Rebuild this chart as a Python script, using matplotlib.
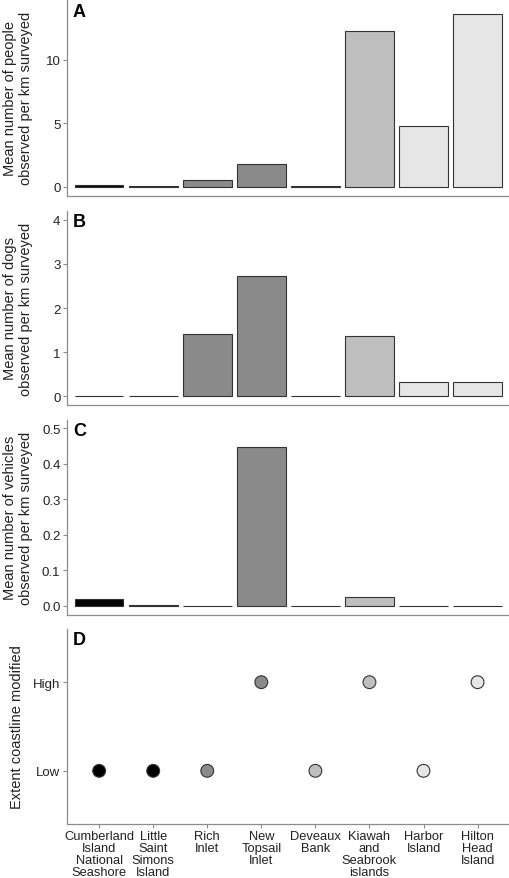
import numpy as np
import matplotlib
matplotlib.use("Agg")
import matplotlib.pyplot as plt

plt.rcParams['font.family'] = ['Liberation Sans', 'DejaVu Sans']

# ── data ─────────────────────────────────────────────
sites = ["Cumberland\nIsland\nNational\nSeashore", "Little\nSaint\nSimons\nIsland",
         "Rich\nInlet", "New\nTopsail\nInlet", "Deveaux\nBank",
         "Kiawah\nand\nSeabrook\nislands", "Harbor\nIsland", "Hilton\nHead\nIsland"]
people = [0.12, 0.04, 0.58, 1.80, 0.04, 12.30, 4.82, 13.60]
dogs = [0.0, 0.0, 1.41, 2.72, 0.0, 1.36, 0.33, 0.32]
vehicles = [0.019, 0.002, 0.0, 0.447, 0.0, 0.025, 0.0, 0.0]
modified = ["Low", "Low", "Low", "High", "Low", "High", "Low", "High"]
fills = ["#000000", "#000000", "#8a8a8a", "#8a8a8a", "#bebebe", "#bebebe", "#e6e6e6", "#e6e6e6"]

W, H = 510, 879
fig = plt.figure(figsize=(W / 100, H / 100), dpi=100)

left = 66.7 / W
width = 1 - left
# (top px, bottom px) of each panel
panels = [(0, 197), (212, 406), (420.7, 616), (630, 825)]
axes = []
for top, bot in panels:
    axes.append(fig.add_axes([left, 1 - bot / H, width, (bot - top) / H]))

x = np.arange(1, len(sites) + 1)
axis_col = "#8c8c8c"
text_col = "#222222"


def style(ax):
    for s in ["top", "right"]:
        ax.spines[s].set_visible(False)
    for s in ["left", "bottom"]:
        ax.spines[s].set_color(axis_col)
        ax.spines[s].set_linewidth(0.9)
    ax.tick_params(colors=axis_col, labelcolor=text_col, labelsize=9.5,
                   length=3, width=0.8, pad=1.5)
    ax.set_xlim(0.4, 8.6)


series = [(people, (-0.71, 14.8), [0, 5, 10], ["0", "5", "10"],
           "Mean number of people\nobserved per km surveyed"),
          (dogs, (-0.2, 4.2), [0, 1, 2, 3, 4], ["0", "1", "2", "3", "4"],
           "Mean number of dogs\nobserved per km surveyed"),
          (vehicles, (-0.026, 0.524), [0, 0.1, 0.2, 0.3, 0.4, 0.5],
           ["0.0", "0.1", "0.2", "0.3", "0.4", "0.5"],
           "Mean number of vehicles\nobserved per km surveyed")]


def ylabel(ax, text, xc):
    # centre the rotated label on the panel, at a fixed pixel column
    b = ax.get_position()
    fig.text(xc / W, b.y0 + b.height / 2, text, rotation=90, fontsize=10.5,
             color=text_col, ha="center", va="center", linespacing=1.25,
             multialignment="center")


for ax, (vals, ylim, ticks, tlabels, ylab) in zip(axes[:3], series):
    ax.bar(x, vals, width=0.9, color=fills, edgecolor="#333333", linewidth=0.8)
    style(ax)
    ax.set_ylim(*ylim)
    ax.set_yticks(ticks)
    ax.set_yticklabels(tlabels)
    ax.set_xticks(x)
    ax.tick_params(axis="x", bottom=False, labelbottom=False)
    ylabel(ax, ylab, 18)

# panel D: points
axd = axes[3]
levels = ["Low", "High"]
yv = [levels.index(m) + 1 for m in modified]
axd.scatter(x, yv, s=85, c=fills, edgecolors="#333333", linewidths=0.8, zorder=3)
style(axd)
axd.set_ylim(0.4, 2.6)
axd.set_yticks([1, 2])
axd.set_yticklabels(levels)
axd.set_xticks(x)
axd.set_xticklabels(sites, fontsize=9.3, linespacing=1.0)
ylabel(axd, "Extent coastline modified", 17)

for lab, top in zip("ABCD", [4, 214, 423, 632]):
    fig.text(73 / W, 1 - top / H, lab, fontsize=13, fontweight="bold",
             va="top", ha="left")

fig.savefig("out.png", dpi=100)
